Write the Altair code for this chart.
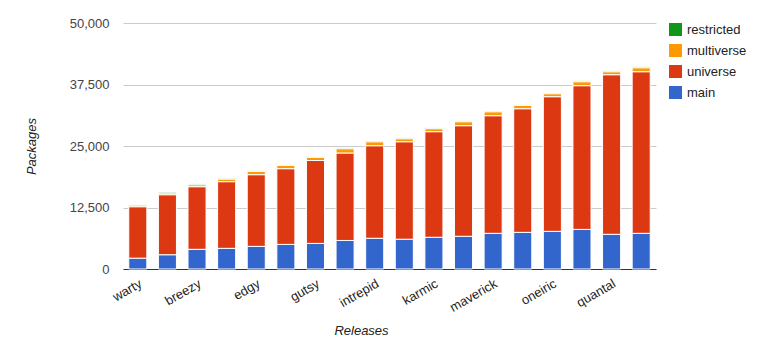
import altair as alt
import pandas as pd

releases = ["warty", "hoary", "breezy", "dapper", "edgy", "feisty", "gutsy", "hardy",
            "intrepid", "jaunty", "karmic", "lucid", "maverick", "natty", "oneiric",
            "precise", "quantal", "raring"]
main = [2200, 2900, 4000, 4200, 4600, 5000, 5200, 5800, 6250, 6050, 6450, 6650,
        7250, 7450, 7650, 8050, 7050, 7250]
universe = [10460, 12200, 12730, 13550, 14570, 15390, 16850, 17780, 18810, 19820,
            21460, 22480, 23910, 25130, 27370, 29210, 32440, 32850]
multiverse = [340, 350, 400, 540, 680, 680, 650, 870, 810, 610, 610, 810, 810, 680,
              610, 810, 610, 810]
restricted = [120, 170, 160, 150, 140, 150, 140, 160, 150, 160, 150, 160, 150, 160,
              150, 170, 160, 170]
series = ["main", "universe", "multiverse", "restricted"]
legend_order = ["restricted", "multiverse", "universe", "main"]
colors = ["#109618", "#ff9900", "#dc3912", "#3366cc"]
y_ticks = [0, 12500, 25000, 37500, 50000]
x_labels = releases[::2]

rows = []
for i, r in enumerate(releases):
    for k, (name, vals) in enumerate(zip(series, [main, universe, multiverse, restricted])):
        rows.append({"release": r, "series": name, "packages": vals[i], "order": k})
df = pd.DataFrame(rows)

FONT = "Arial"

chart = alt.Chart(df).mark_bar(stroke="white", strokeWidth=1).encode(
    x=alt.X("release:N", sort=releases,
            scale=alt.Scale(paddingInner=0.39, paddingOuter=0.195),
            axis=alt.Axis(title="Releases", values=x_labels, labelAngle=-30,
                          labelAlign="right", labelBaseline="top", labelPadding=8,
                          ticks=False, domainColor="#333333", domainWidth=1,
                          labelColor="#222222", labelFontSize=13, labelFont=FONT,
                          titleFont=FONT, titleFontSize=13, titleFontStyle="italic",
                          titleFontWeight="normal", titleColor="#222222",
                          titleX=238, titleY=61, titleBaseline="middle", grid=False)),
    y=alt.Y("packages:Q", stack="zero",
            scale=alt.Scale(domain=[0, 50000], nice=False),
            axis=alt.Axis(title="Packages", values=y_ticks, format=",.0f",
                          ticks=False, domain=False, labelPadding=14,
                          labelColor="#444444", labelFontSize=13, labelFont=FONT,
                          gridColor="#cccccc",
                          titleFont=FONT, titleFontSize=13, titleFontStyle="italic",
                          titleFontWeight="normal", titleColor="#222222",
                          titleAngle=-90, titleX=-92, titleY=123,
                          titleAlign="center", titleBaseline="middle")),
    color=alt.Color("series:N",
                    scale=alt.Scale(domain=legend_order, range=colors),
                    legend=alt.Legend(title=None, orient="none", legendX=546, legendY=0,
                                      symbolType="square", symbolSize=169,
                                      symbolStrokeWidth=0, labelFontSize=13,
                                      labelFont=FONT, labelColor="#222222",
                                      labelOffset=5, rowPadding=7)),
    order=alt.Order("order:Q", sort="ascending"),
).properties(
    width=533, height=246,
    autosize=alt.AutoSizeParams(type="none"),
    padding={"left": 123, "top": 23, "right": 106, "bottom": 83},
).configure_view(stroke=None).configure_axis(domainCap="butt")

chart.save("out.html", embed_options={"renderer": "svg", "actions": False})
